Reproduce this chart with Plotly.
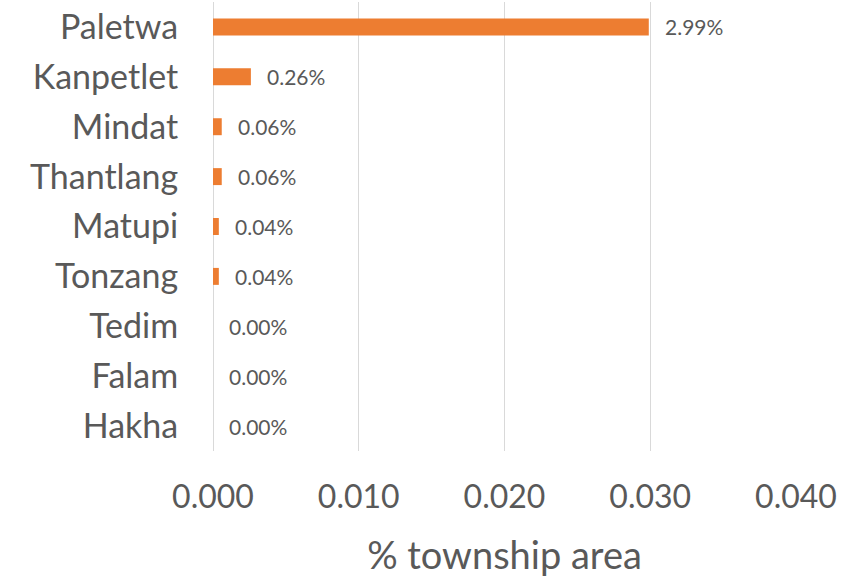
import plotly.graph_objects as go

townships = ["Paletwa", "Kanpetlet", "Mindat", "Thantlang", "Matupi", "Tonzang", "Tedim", "Falam", "Hakha"]
share_area = [0.0299, 0.0026, 0.0006, 0.0006, 0.0004, 0.0004, 0.0, 0.0, 0.0]
tick_vals = [0.0, 0.01, 0.02, 0.03, 0.04]
tick_text = ["0.000", "0.010", "0.020", "0.030", "0.040"]

FONT = "Lato"
TXT = "#595959"

fig = go.Figure()
fig.add_trace(go.Bar(
    x=share_area, y=townships, orientation="h",
    marker=dict(color="#ED7D31", line=dict(width=0)),
    hoverinfo="skip",
))

for t, v in zip(townships, share_area):
    fig.add_annotation(
        x=v, y=t, xref="x", yref="y", text=f"{v*100:.2f}%",
        showarrow=False, xanchor="left", yanchor="middle", xshift=14,
        font=dict(family=FONT, size=21, color=TXT),
    )

fig.update_layout(
    width=844, height=577,
    margin=dict(l=213, r=48, t=2, b=126),
    paper_bgcolor="white", plot_bgcolor="white",
    bargap=0.66, showlegend=False,
    font=dict(family=FONT, color=TXT),
)
fig.update_xaxes(
    range=[0, 0.04], tickvals=tick_vals, ticktext=tick_text,
    showgrid=True, gridcolor="#D9D9D9", gridwidth=1,
    zeroline=True, zerolinecolor="#D9D9D9", zerolinewidth=1, showline=False,
    ticks="outside", ticklen=18, tickcolor="rgba(0,0,0,0)",
    tickfont=dict(family=FONT, size=32, color=TXT),
    title=dict(text="% township area", font=dict(family=FONT, size=38, color=TXT), standoff=27),
    automargin=False,
)
fig.update_yaxes(
    autorange="reversed", showgrid=False, zeroline=False, showline=False,
    ticks="outside", ticklen=27, tickcolor="rgba(0,0,0,0)",
    tickfont=dict(family=FONT, size=34, color=TXT),
    automargin=False,
)

fig.write_html(
    "out.html",
    config={"displayModeBar": False, "staticPlot": True},
    post_script="document.body.style.margin='0';document.body.style.padding='0';",
)
